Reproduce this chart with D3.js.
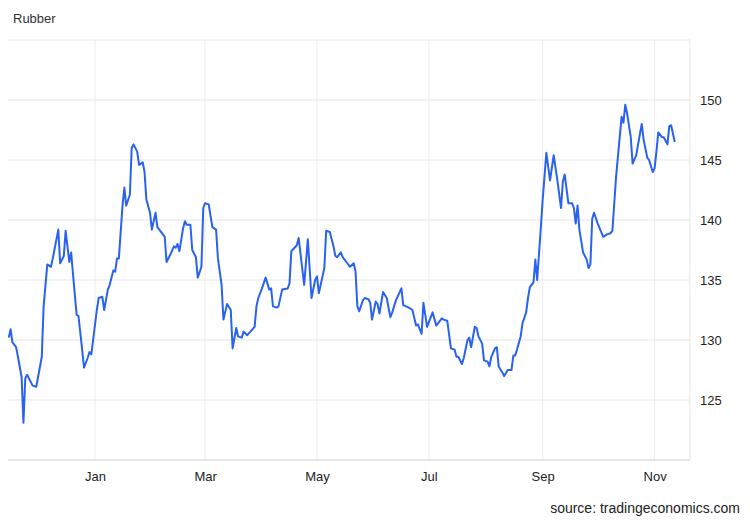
<!DOCTYPE html>
<html lang="en">
<head>
<meta charset="UTF-8">
<title>Rubber</title>
<style>
  body { margin: 0; background: #fff; }
  text { font-family: Arial, "Liberation Sans", sans-serif; }
</style>
</head>
<body>
<svg id="chart" width="750" height="520"></svg>
<script src="https://d3js.org/d3.v7.min.js"></script>
<script>
// days since Jan 1 (negative = previous year) and price values
var days = [-47,-46,-45,-43,-42,-40,-39,-38,-37,-34,-32,-29,-28,-26,-24,-23,-20,-19,-17,-16,-14,-13,-12,-10,-9,-7,-6,-4,-3,-2,
  1,2,4,5,7,8,10,11,12,13,15,16,17,19,20,21,23,24,26,27,28,30,31,33,34,37,38,39,41,43,44,45,46,48,49,50,52,53,55,56,58,59,60,62,63,64,66,67,69,70,
  72,74,75,77,78,80,81,83,87,88,89,91,93,95,96,97,99,100,102,105,106,107,110,111,114,116,118,120,121,122,124,125,126,128,130,131,132,134,135,137,139,141,142,143,144,146,147,149,150,151,153,154,155,157,159,161,162,164,167,168,171,173,175,176,178,179,181,184,186,189,190,192,
  194,196,197,198,200,201,203,204,205,207,208,209,211,212,214,215,216,218,219,220,222,223,225,227,228,229,230,232,233,235,236,237,239,240,241,243,244,246,248,250,252,254,255,256,258,260,261,262,263,264,266,268,269,270,271,272,274,277,279,281,282,284,287,288,289,290,292,293,295,296,298,299,301,302,304,305,306,307,309,310,312,313,314,316];
var values = [130.2,130.9,129.8,129.4,128.6,126.9,123.1,126.8,127.1,126.2,126.1,128.6,132.8,136.3,136.1,136.8,139.2,136.4,137.0,139.1,136.5,137.3,135.5,132.1,132.0,129.2,127.7,128.5,129.0,128.8,
  132.5,133.5,133.6,132.5,134.2,134.6,135.8,135.7,136.8,136.8,141.2,142.7,141.2,142.1,146.0,146.3,145.7,144.6,144.8,144.0,141.7,140.6,139.2,140.6,139.4,138.8,138.6,136.5,137.1,137.8,137.7,138.0,137.4,139.3,139.9,139.6,139.6,137.5,136.9,135.2,136.1,141.0,141.4,141.3,140.3,139.4,139.2,136.8,134.6,131.7,
  133.0,132.5,129.3,131.0,130.3,130.2,130.7,130.4,131.1,132.8,133.5,134.3,135.2,134.2,134.3,132.8,132.7,132.8,134.2,134.3,134.7,137.4,137.9,138.5,134.6,138.4,133.5,135.0,135.3,133.9,135.3,136.0,139.1,139.0,137.8,137.0,136.9,137.3,136.9,136.5,136.1,136.4,135.7,132.8,132.4,133.3,133.5,133.4,133.1,131.7,133.2,133.0,132.2,134.0,133.5,131.9,132.3,133.3,134.3,132.9,132.7,132.5,131.2,131.3,130.5,133.1,131.1,132.3,131.2,131.8,131.7,131.6,
  129.3,129.2,128.6,128.6,128.0,128.5,130.0,130.2,129.4,131.1,131.0,130.3,129.7,128.3,128.2,127.8,128.6,129.3,129.4,127.8,127.3,127.0,127.5,127.5,128.7,128.7,129.2,130.3,131.4,132.3,133.5,134.4,134.8,136.7,135.0,139.4,141.7,145.6,143.3,145.4,143.3,141.0,143.2,143.8,141.4,141.4,141.0,139.7,141.2,139.2,137.3,136.7,136.0,136.3,140.1,140.6,139.7,138.6,138.8,138.9,139.1,143.6,148.6,148.1,149.6,148.9,146.9,144.7,145.4,146.3,148.0,146.7,145.2,145.0,144.0,144.3,145.7,147.3,146.9,146.9,146.3,147.8,147.9,146.5];
var yTicks = [125, 130, 135, 140, 145, 150];
var monthTicks = ["2024-01-01", "2024-03-01", "2024-05-01", "2024-07-01", "2024-09-01", "2024-11-01"];

var svg = d3.select("#chart");
var jan1 = new Date(2024, 0, 1);
var parse = d3.timeParse("%Y-%m-%d");

var data = days.map(function(d, i) {
  return { date: d3.timeDay.offset(jan1, d), value: values[i] };
});

var x = d3.scaleTime()
  .domain([d3.timeHour.offset(jan1, -47.4 * 24), d3.timeHour.offset(jan1, 324.3 * 24)])
  .range([8, 690]);
var y = d3.scaleLinear().domain([120, 155]).range([460, 40]);

// horizontal grid
svg.append("g")
  .selectAll("line")
  .data(yTicks.concat([155]))
  .enter().append("line")
  .attr("x1", 8).attr("x2", 690)
  .attr("y1", function(d) { return y(d); })
  .attr("y2", function(d) { return y(d); })
  .attr("stroke", "#e6e6e6");

// vertical grid at months
var months = monthTicks.map(parse);
svg.append("g")
  .selectAll("line")
  .data(months)
  .enter().append("line")
  .attr("x1", function(d) { return x(d); })
  .attr("x2", function(d) { return x(d); })
  .attr("y1", 40).attr("y2", 460)
  .attr("stroke", "#ececec");

svg.append("line")
  .attr("x1", 690).attr("x2", 690).attr("y1", 40).attr("y2", 460)
  .attr("stroke", "#e6e6e6");

// x axis
var xAxis = svg.append("g")
  .attr("transform", "translate(0,460)")
  .call(d3.axisBottom(x).tickValues(months).tickFormat(d3.timeFormat("%b")).tickSize(0).tickPadding(12));
xAxis.select(".domain").attr("stroke", "#cccccc").attr("d", "M8,0H690");
xAxis.selectAll("text").attr("font-size", 13).attr("fill", "#222");

// y axis labels
svg.append("g")
  .selectAll("text")
  .data(yTicks)
  .enter().append("text")
  .attr("x", 700)
  .attr("y", function(d) { return y(d) + 5; })
  .attr("font-size", 13)
  .attr("fill", "#222")
  .text(function(d) { return d; });

var line = d3.line()
  .x(function(d) { return x(d.date); })
  .y(function(d) { return y(d.value); });

svg.append("path")
  .datum(data)
  .attr("d", line)
  .attr("fill", "none")
  .attr("stroke", "#2962f0")
  .attr("stroke-width", 2)
  .attr("stroke-linejoin", "round");

svg.append("text").attr("x", 13).attr("y", 23).attr("font-size", 13).attr("fill", "#333").text("Rubber");
svg.append("text").attr("x", 740).attr("y", 513).attr("text-anchor", "end").attr("font-size", 14).attr("fill", "#222")
  .text("source: tradingeconomics.com");
</script>
</body>
</html>
